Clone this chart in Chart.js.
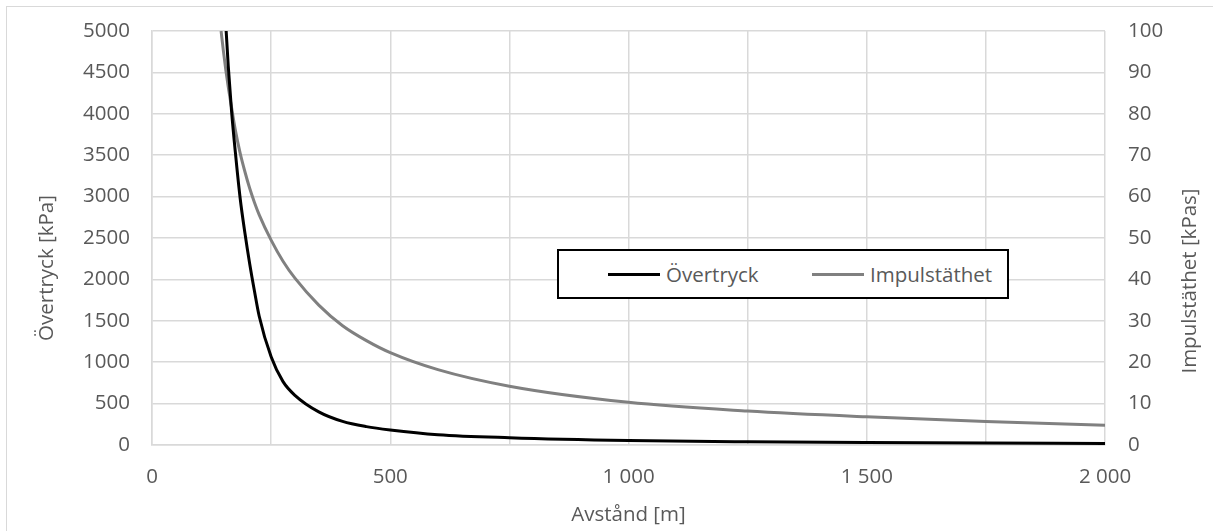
<!DOCTYPE html>
<html>
<head>
<meta charset="utf-8">
<script src="https://cdn.jsdelivr.net/npm/chart.js@4.4.1/dist/chart.umd.min.js"></script>
<style>
    html, body { margin: 0; padding: 0; background: #fff; overflow: hidden; }
    #wrap { position: relative; width: 1213px; height: 531px; overflow: hidden; }
    #frame { position: absolute; left: 6px; top: 6px; width: 1230px; height: 540px; border: 1.5px solid #d9d9d9; box-sizing: border-box; pointer-events: none; }
    #legendBox { position: absolute; left: 557px; top: 249px; width: 452px; height: 50px; border: 2px solid #000; box-sizing: border-box; background: #fff; display: flex; align-items: center; padding-left: 49px; font-family: 'Open Sans', sans-serif; font-size: 20.5px; color: #595959; }
    .item { display: flex; align-items: center; }
    .item .swatch { width: 52px; height: 3px; margin-right: 6px; }
</style>
</head>
<body>
<div id="wrap">
    <canvas id="blastChart" width="1213" height="531"></canvas>
    <div id="frame"></div>
    <div id="legendBox"></div>
</div>
<script>
// avstånd [m]
const distances = [145, 150, 155, 160, 167, 175, 185, 195, 205, 215, 225, 250, 275, 300, 350, 400, 450, 500, 600, 750, 1000, 1250, 1500, 1750, 2000];
// övertryck [kPa]
const overtryck = [6300, 5650, 5060, 4580, 4030, 3530, 2980, 2560, 2190, 1860, 1555, 1065, 765, 600, 400, 285, 222, 182, 125, 88, 54, 38, 29, 23, 19];
// impulstäthet [kPas]
const impulstathet = [100, 95, 90.5, 86.5, 81.5, 76, 70.5, 66, 62, 58.6, 55.6, 49.5, 44.4, 40.3, 33.8, 28.8, 25.2, 22.3, 18.2, 14.2, 10.3, 8.2, 6.8, 5.7, 4.8];

const seriesNames = ['Övertryck', 'Impulstäthet'];
const leftTitle = 'Övertryck [kPa]';
const rightTitle = 'Impulstäthet [kPas]';
const xTitle = 'Avstånd [m]';

const textColor = '#595959';
const gridColor = '#d9d9d9';
const fontFamily = "'Open Sans', sans-serif";
const fontSize = 20.5;

function toPoints(xs, ys) {
    return xs.map(function (x, i) { return { x: x, y: ys[i] }; });
}

function spaced(v) {
    return String(v).replace(/\B(?=(\d{3})+(?!\d))/g, ' ');
}

// fixed axis box sizes, and no extra label overflow padding
function fixWidth(w) {
    return function (scale) {
        scale.width = w;
        scale.paddingTop = 0;
        scale.paddingBottom = 0;
    };
}

// y-axis titles sit a bit below the plot centre in the original
const sideTitles = {
    id: 'sideTitles',
    afterDraw: function (chart) {
        const ctx = chart.ctx;
        const area = chart.chartArea;
        const mid = (area.top + area.bottom) / 2;
        ctx.save();
        ctx.fillStyle = textColor;
        ctx.font = fontSize + 'px ' + fontFamily;
        ctx.textAlign = 'center';
        ctx.textBaseline = 'middle';

        ctx.save();
        ctx.translate(47, mid + 30);
        ctx.rotate(-Math.PI / 2);
        ctx.fillText(leftTitle, 0, 0);
        ctx.restore();

        ctx.save();
        ctx.translate(1190, mid + 43);
        ctx.rotate(-Math.PI / 2);
        ctx.fillText(rightTitle, 0, 0);
        ctx.restore();

        ctx.restore();
    }
};

const ctx = document.getElementById('blastChart').getContext('2d');

const data = {
    datasets: [{
        label: seriesNames[0],
        data: toPoints(distances, overtryck),
        borderColor: '#000000',
        backgroundColor: '#000000',
        borderWidth: 3,
        pointRadius: 0,
        cubicInterpolationMode: 'monotone',
        clip: 0,
        yAxisID: 'y'
    }, {
        label: seriesNames[1],
        data: toPoints(distances, impulstathet),
        borderColor: '#808080',
        backgroundColor: '#808080',
        borderWidth: 3,
        pointRadius: 0,
        cubicInterpolationMode: 'monotone',
        clip: 0,
        yAxisID: 'y1'
    }]
};

const config = {
    type: 'line',
    data: data,
    options: {
        responsive: false,
        animation: false,
        layout: {
            padding: { top: 31, left: 0, right: 0, bottom: 0 }
        },
        plugins: {
            legend: { display: false },
            tooltip: { enabled: false }
        },
        scales: {
            x: {
                type: 'linear',
                min: 0,
                max: 2000,
                afterFit: function (scale) {
                    scale.height = 86;
                    scale.paddingLeft = 0;
                    scale.paddingRight = 0;
                },
                grid: { color: gridColor, lineWidth: 1.5, drawTicks: false },
                border: { color: gridColor, width: 1.5 },
                ticks: {
                    stepSize: 250,
                    autoSkip: false,
                    maxRotation: 0,
                    padding: 20,
                    color: textColor,
                    font: { family: fontFamily, size: fontSize },
                    callback: function (value) {
                        return value % 500 === 0 ? spaced(value) : '';
                    }
                },
                title: {
                    display: true,
                    text: xTitle,
                    color: textColor,
                    font: { family: fontFamily, size: fontSize },
                    padding: { top: 0, bottom: 4 }
                }
            },
            y: {
                position: 'left',
                min: 0,
                max: 5000,
                afterFit: fixWidth(152),
                grid: { color: gridColor, lineWidth: 1.5, drawTicks: false },
                border: { color: gridColor, width: 1.5 },
                ticks: {
                    stepSize: 500,
                    padding: 22,
                    color: textColor,
                    font: { family: fontFamily, size: fontSize },
                    callback: function (value) { return String(value); }
                }
            },
            y1: {
                position: 'right',
                min: 0,
                max: 100,
                afterFit: fixWidth(108),
                grid: { display: false, drawTicks: false },
                border: { display: false },
                ticks: {
                    stepSize: 10,
                    padding: 23,
                    color: textColor,
                    font: { family: fontFamily, size: fontSize },
                    callback: function (value) { return String(value); }
                }
            }
        }
    },
    plugins: [sideTitles]
};

const chart = new Chart(ctx, config);

// legend box inside the plot, built from the datasets
const legendBox = document.getElementById('legendBox');
chart.data.datasets.forEach(function (ds, i) {
    const item = document.createElement('div');
    item.className = 'item';
    if (i === 0) item.style.width = '204px';
    const sw = document.createElement('span');
    sw.className = 'swatch';
    sw.style.background = ds.borderColor;
    const label = document.createElement('span');
    label.textContent = ds.label;
    item.appendChild(sw);
    item.appendChild(label);
    legendBox.appendChild(item);
});
</script>
</body>
</html>
